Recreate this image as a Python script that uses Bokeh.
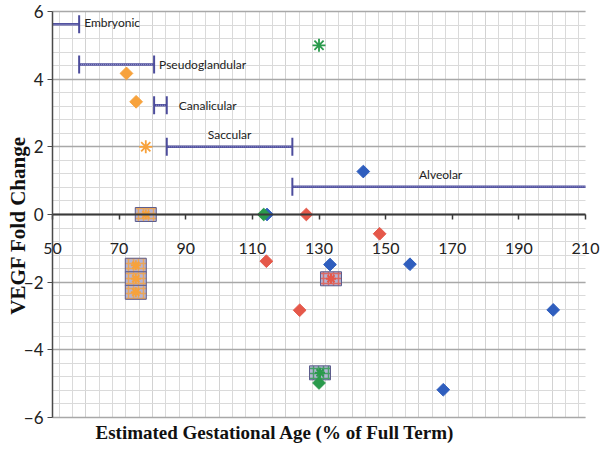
from bokeh.plotting import figure
from bokeh.models import Range1d, SingleIntervalTicker, FixedTicker, ColumnDataSource, Label
from bokeh.embed import file_html
from bokeh.resources import INLINE
import math

# ---- data ----
x_ticks = [50, 70, 90, 110, 130, 150, 170, 190, 210]
y_ticks = [-6, -4, -2, 0, 2, 4, 6]

phase_names = ["Embryonic", "Pseudoglandular", "Canalicular", "Saccular", "Alveolar"]
phase_start = [50, 58, 80.5, 84.3, 122]
phase_end = [58, 80.5, 84.3, 122, 210]
phase_y = [5.62, 4.43, 3.23, 2.0, 0.82]

orange_diamond_x = [72.2, 75.1]
orange_diamond_y = [4.17, 3.33]
orange_star_x = [78]
orange_star_y = [2.0]

green_diamond_x = [113.4, 130]
green_diamond_y = [0, -4.98]
green_star_x = [130]
green_star_y = [5.0]

red_diamond_x = [126.2, 148.2, 114.2, 124.2]
red_diamond_y = [0, -0.57, -1.38, -2.83]

blue_diamond_x = [114.4, 143.3, 133.3, 157.3, 200.3, 167.3]
blue_diamond_y = [0, 1.27, -1.48, -1.47, -2.82, -5.18]

box_x = [78, 75, 75, 75, 133.6, 130.3]
box_y = [0, -1.5, -1.9, -2.3, -1.9, -4.68]
box_series = ["orange", "orange", "orange", "orange", "red", "green"]

x_title = "Estimated Gestational Age (% of Full Term)"
y_title = "VEGF Fold Change"

COL = {"orange": "#F7A23C", "green": "#2A9A4C", "red": "#E5584A", "blue": "#2F5EBE"}
PHASE_COL = "#4C4C9C"

XMIN, XMAX = x_ticks[0], x_ticks[-1]
YMIN, YMAX = y_ticks[0], y_ticks[-1]

# the frame fills the whole canvas; the chart area (50..210, -6..6) sits inside it
p = figure(width=600, height=449, x_range=Range1d(34.39, 214.5), y_range=Range1d(-6.946, 6.325),
           output_backend="svg", toolbar_location=None,
           min_border_left=0, min_border_right=0, min_border_top=0, min_border_bottom=0)
p.outline_line_color = None
p.background_fill_color = "white"
p.border_fill_color = "white"

# grids
p.xgrid.ticker = SingleIntervalTicker(interval=20, num_minor_ticks=5)
p.xgrid.bounds = (XMIN, XMAX)
p.xgrid.cross_bounds = (YMIN, YMAX)
p.xgrid.grid_line_color = "#d2d2d2"
p.xgrid.minor_grid_line_color = "#dadada"
p.ygrid.ticker = SingleIntervalTicker(interval=2, num_minor_ticks=5)
p.ygrid.bounds = (YMIN, YMAX)
p.ygrid.cross_bounds = (XMIN, XMAX)
p.ygrid.grid_line_color = "#a8a8a8"
p.ygrid.grid_line_width = 1.5
p.ygrid.minor_grid_line_color = "#dadada"

# x axis drawn through y = 0
p.xaxis.ticker = FixedTicker(ticks=x_ticks)
p.xaxis.fixed_location = 0
p.xaxis.bounds = (XMIN, XMAX)
p.xaxis.axis_line_color = "#3a3a3a"
p.xaxis.axis_line_width = 2
p.xaxis.major_tick_line_color = "#3a3a3a"
p.xaxis.major_tick_line_width = 1.5
p.xaxis.major_tick_out = 5
p.xaxis.major_tick_in = 0
p.xaxis.minor_tick_out = 0
p.xaxis.minor_tick_in = 0
p.xaxis.major_label_standoff = 24
p.xaxis.major_label_text_font = "Lato"
p.xaxis.major_label_text_font_size = "16px"
p.xaxis.major_label_text_color = "#222222"

# y axis drawn through x = 50
p.yaxis.ticker = FixedTicker(ticks=y_ticks)
p.yaxis.fixed_location = XMIN
p.yaxis.bounds = (YMIN, YMAX)
p.yaxis.axis_line_color = "#4a4a4a"
p.yaxis.axis_line_width = 1.5
p.yaxis.major_tick_line_color = "#4a4a4a"
p.yaxis.major_tick_out = 5
p.yaxis.major_tick_in = 0
p.yaxis.minor_tick_out = 0
p.yaxis.minor_tick_in = 0
p.yaxis.major_label_standoff = 4
p.yaxis.major_label_text_font = "Lato"
p.yaxis.major_label_text_font_size = "17px"
p.yaxis.major_label_text_color = "#222222"

# axis titles
p.add_layout(Label(x=17, y=224, x_units="screen", y_units="screen", angle=math.pi / 2, text=y_title,
                   text_align="center", text_baseline="alphabetic", text_font="Liberation Serif",
                   text_font_style="bold", text_font_size="21px", text_color="#111111"))
p.add_layout(Label(x=95, y=17, x_units="screen", y_units="screen", text=x_title,
                   text_align="left", text_baseline="middle", text_font="Liberation Serif",
                   text_font_style="bold", text_font_size="19px", text_color="#111111"))

# phase bars
ph = ColumnDataSource(dict(x0=phase_start, x1=phase_end, y=phase_y, name=phase_names))
p.segment(x0="x0", y0="y", x1="x1", y1="y", source=ph, line_color=PHASE_COL, line_width=2.5)
p.segment(x0="x0", y0="y", x1="x1", y1="y", source=ph, line_color="#a0a0d0", line_width=1, line_dash="1 1")
cap_x = phase_start[1:] + phase_end[:-1]
cap_y = phase_y[1:] + phase_y[:-1]
p.scatter(cap_x, cap_y, marker="dash", angle=math.pi / 2, size=18, line_color=PHASE_COL, line_width=2)

lab_font = "Lato"
for i in range(3):
    p.add_layout(Label(x=phase_end[i], y=phase_y[i] + (0.05 if i == 0 else 0), text=phase_names[i],
                       x_offset=5 if i < 2 else 12, text_baseline="middle", text_font=lab_font,
                       text_font_size="12px", text_color="#222222"))
p.add_layout(Label(x=(phase_start[3] + phase_end[3]) / 2, y=phase_y[3], y_offset=12, text=phase_names[3],
                   text_align="center", text_baseline="middle", text_font=lab_font,
                   text_font_size="12px", text_color="#222222"))
p.add_layout(Label(x=166.5, y=phase_y[4], y_offset=12, text=phase_names[4],
                   text_align="center", text_baseline="middle", text_font=lab_font,
                   text_font_size="12px", text_color="#222222"))

# boxed points
bs = ColumnDataSource(dict(x=box_x, y=box_y, c=[COL[s] for s in box_series]))
p.rect(x="x", y="y", width=21, height=14, width_units="screen", height_units="screen", source=bs,
       fill_color="#b4b4d4", line_color="#5c5c8c", line_width=1,
       hatch_pattern="cross", hatch_color="c", hatch_scale=5, hatch_weight=1.5, hatch_alpha=0.8)
p.scatter(x="x", y="y", source=bs, marker="asterisk", size=10, line_color="c", line_width=2)

def diamonds(xs, ys, color):
    p.scatter(xs, ys, marker="square", angle=math.pi / 4, size=9, fill_color=color, line_color=color)

diamonds(blue_diamond_x, blue_diamond_y, COL["blue"])
diamonds(red_diamond_x, red_diamond_y, COL["red"])
diamonds(green_diamond_x, green_diamond_y, COL["green"])
diamonds(orange_diamond_x, orange_diamond_y, COL["orange"])

p.scatter(orange_star_x, orange_star_y, marker="asterisk", size=13, line_color=COL["orange"], line_width=1.8)
p.scatter(green_star_x, green_star_y, marker="asterisk", size=13, line_color=COL["green"], line_width=1.8)

open("out.html", "w").write(file_html(p, INLINE))
